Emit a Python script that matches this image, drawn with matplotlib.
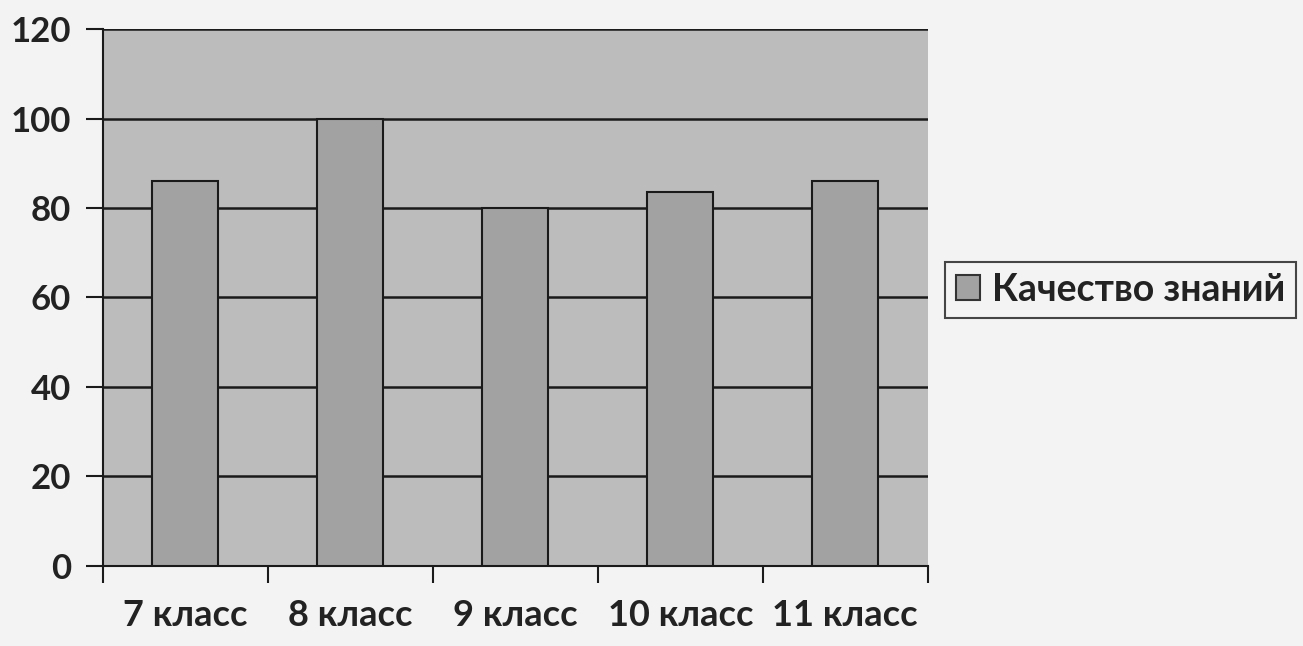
import matplotlib
matplotlib.use("Agg")
import matplotlib.pyplot as plt
from matplotlib.patches import Patch

categories = ["7 класс", "8 класс", "9 класс", "10 класс", "11 класс"]
values = [86, 100, 80, 83.5, 86]
series_name = "Качество знаний"
yticks = [0, 20, 40, 60, 80, 100, 120]

plt.rcParams['font.family'] = ['Lato', 'DejaVu Sans']

fig = plt.figure(figsize=(13.03, 6.46), dpi=100, facecolor='#f3f3f3')
ax = fig.add_axes([0.079, 0.124, 0.633, 0.831])
ax.set_facecolor('#bcbcbc')

x = list(range(len(categories)))
ax.bar(x, values, width=0.4, color='#a2a2a2', edgecolor='#1a1a1a', linewidth=1.5, zorder=3)

ax.set_xlim(-0.5, len(categories) - 0.5)
ax.set_ylim(0, 120)
ax.set_yticks(yticks)
ax.set_yticklabels([str(t) for t in yticks], fontsize=25, fontweight='bold', color='#222222')
ax.yaxis.grid(True, color='#1a1a1a', linewidth=1.8, zorder=1)
ax.set_axisbelow(True)

ax.set_xticks([i - 0.5 for i in range(len(categories) + 1)])
ax.set_xticklabels([])
ax.set_xticks(x, minor=True)
ax.set_xticklabels(categories, minor=True, fontsize=26, fontweight='bold', color='#222222')
ax.tick_params(axis='x', which='major', length=12, width=1.5, direction='out', color='#1a1a1a')
ax.tick_params(axis='x', which='minor', length=0, pad=24)
ax.tick_params(axis='y', length=12, width=1.5, direction='out', color='#1a1a1a', pad=11)

for s in ['top', 'right']:
    ax.spines[s].set_visible(False)
for s in ['left', 'bottom']:
    ax.spines[s].set_color('#1a1a1a')
    ax.spines[s].set_linewidth(1.5)

handle = Patch(facecolor='#a2a2a2', edgecolor='#333333', linewidth=1.5)
leg = fig.legend([handle], [series_name], loc='center left', bbox_to_anchor=(0.725, 0.551),
                 borderaxespad=0,
                 frameon=True, fancybox=False, edgecolor='#1a1a1a', facecolor='#f3f3f3',
                 prop={'size': 27, 'weight': 'bold'}, handlelength=0.65, handleheight=0.65,
                 handletextpad=0.3, borderpad=0.3)
leg.get_frame().set_linewidth(1.5)
for t in leg.get_texts():
    t.set_color('#222222')

fig.savefig("out.png", dpi=100, facecolor=fig.get_facecolor())
